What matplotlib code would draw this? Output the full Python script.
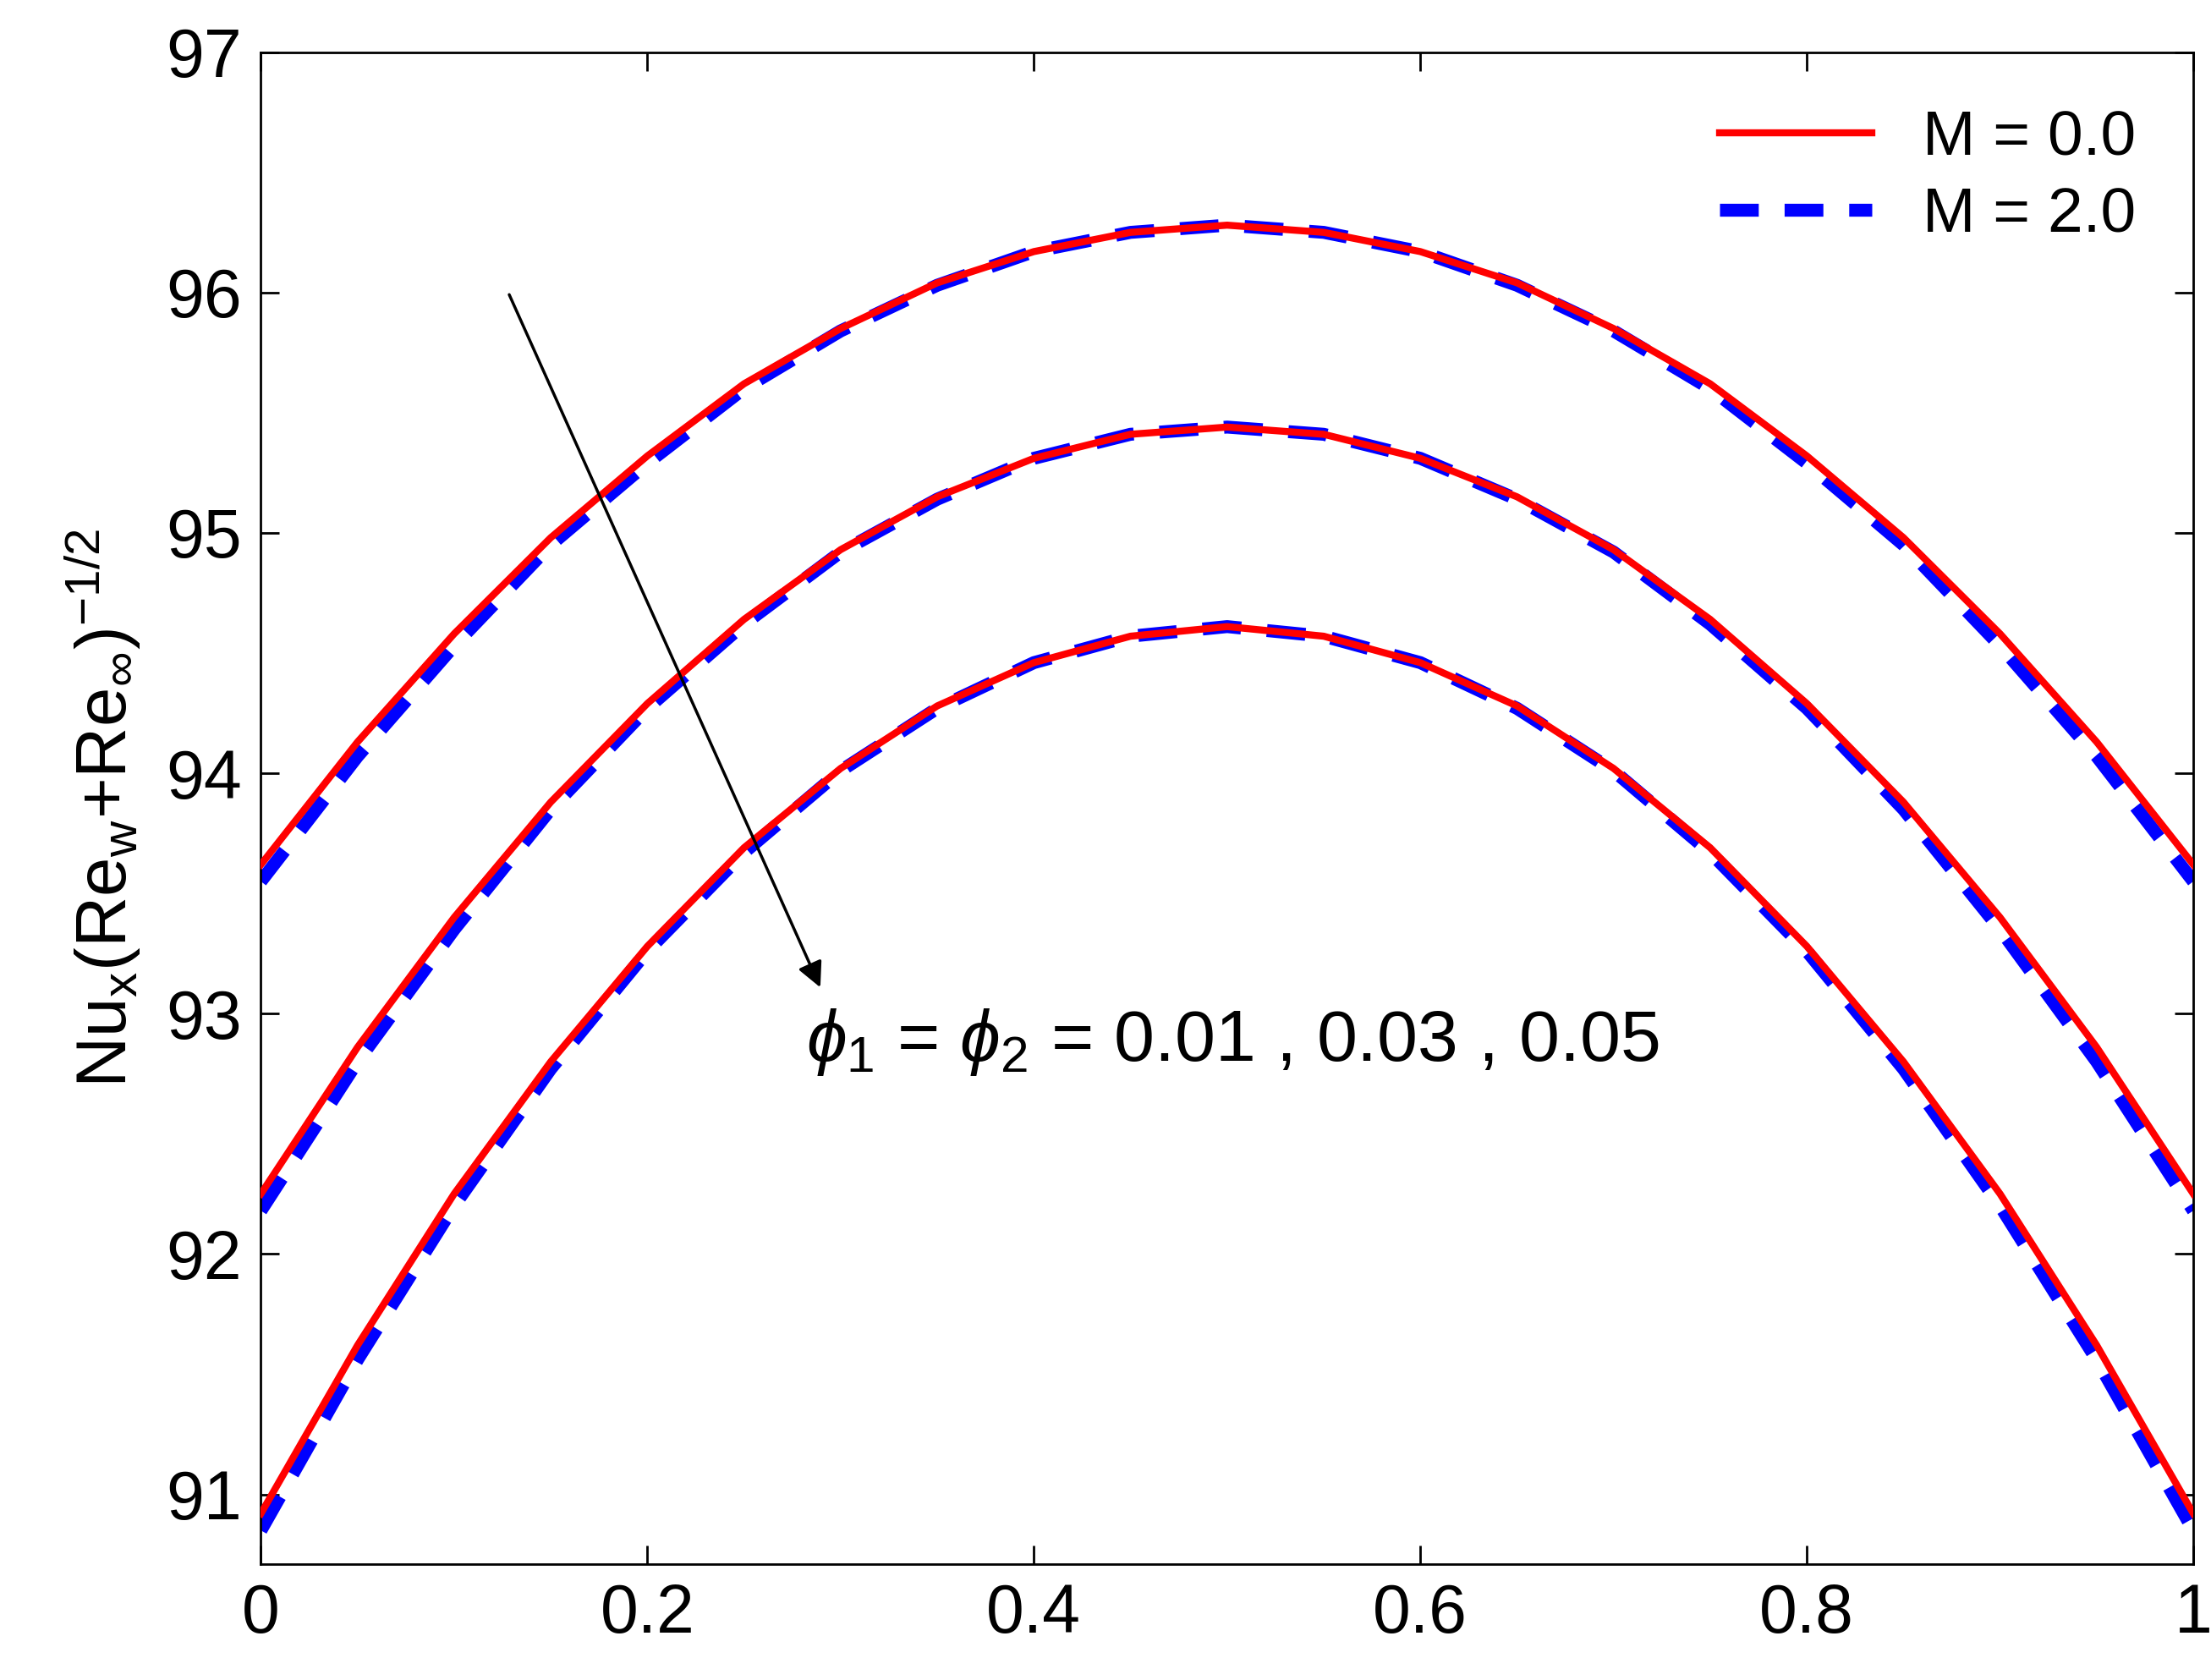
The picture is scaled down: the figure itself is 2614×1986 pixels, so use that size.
import matplotlib
matplotlib.use("Agg")
import matplotlib.pyplot as plt
import numpy as np

plt.rcParams['font.family'] = ['Liberation Sans', 'DejaVu Sans']
plt.rcParams['mathtext.fontset'] = 'custom'
plt.rcParams['mathtext.rm'] = 'Liberation Sans'
plt.rcParams['mathtext.it'] = 'Liberation Sans:italic'

x = [round(0.05 * i, 2) for i in range(21)]
half_top_m0 = [93.62, 94.13, 94.58, 94.98, 95.32, 95.62, 95.85, 96.04, 96.17, 96.25, 96.28]
half_mid_m0 = [92.25, 92.86, 93.40, 93.88, 94.29, 94.64, 94.93, 95.15, 95.31, 95.41, 95.44]
half_bot_m0 = [90.92, 91.62, 92.25, 92.80, 93.28, 93.69, 94.02, 94.28, 94.46, 94.57, 94.61]
half_top_m2 = [93.55, 94.07, 94.53, 94.95, 95.29, 95.60, 95.84, 96.03, 96.17, 96.25, 96.28]
half_mid_m2 = [92.18, 92.80, 93.35, 93.85, 94.27, 94.62, 94.92, 95.14, 95.31, 95.41, 95.44]
half_bot_m2 = [90.85, 91.56, 92.20, 92.77, 93.26, 93.67, 94.01, 94.27, 94.46, 94.57, 94.61]

def full(h):
    return h + h[-2::-1]

m0 = [full(half_top_m0), full(half_mid_m0), full(half_bot_m0)]
m2 = [full(half_top_m2), full(half_mid_m2), full(half_bot_m2)]

fig = plt.figure(figsize=(26.14, 19.86), dpi=100)
ax = fig.add_axes([0.118, 0.069, 0.874, 0.9])
for i in range(3):
    ax.plot(x, m0[i], color='#ff0000', lw=6, label='M = 0.0' if i == 0 else None, zorder=3)
    ax.plot(x, m2[i], color='#0000ff', lw=11, ls=(0, (3, 2)), label='M = 2.0' if i == 0 else None, zorder=2)

ax.set_xlim(0, 1)
ax.set_ylim(90.71, 97)
ax.set_xticks([0, 0.2, 0.4, 0.6, 0.8, 1])
ax.set_xticklabels(['0', '0.2', '0.4', '0.6', '0.8', '1'])
ax.set_yticks([91, 92, 93, 94, 95, 96, 97])
ax.tick_params(labelsize=58, direction='in', length=16, width=2, top=True, right=True, pad=16)
for s in ax.spines.values():
    s.set_linewidth(2)
ax.set_ylabel(r'Nu$_{\mathrm{x}}$(Re$_{\mathrm{w}}$+Re$_{\infty}$)$^{-1/2}$', fontsize=60, labelpad=20)

ax.annotate('', xy=(0.29, 93.1), xytext=(0.128, 96.0),
            arrowprops=dict(arrowstyle='-|>', color='black', lw=2.5, mutation_scale=45))
ax.text(0.282, 92.88, r'$\phi_1$ = $\phi_2$ = 0.01 , 0.03 , 0.05', fontsize=62, va='center')

ax.legend(loc='upper right', fontsize=54, frameon=False, handlelength=2.4,
          borderaxespad=0.5, labelspacing=0.3)
fig.savefig('out.png', dpi=100)
